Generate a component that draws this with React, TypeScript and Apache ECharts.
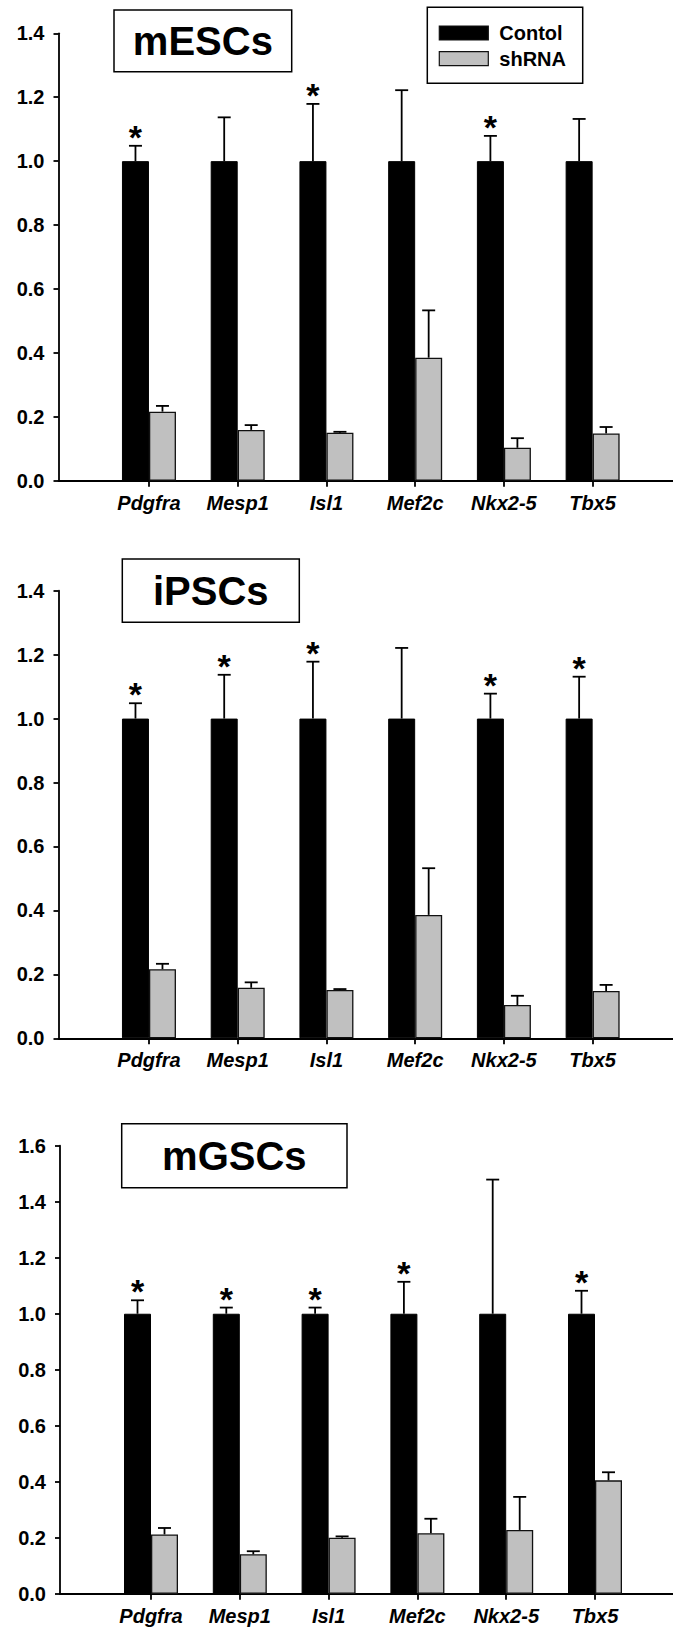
import React, { useEffect, useRef } from "react";
import * as echarts from "echarts";

const FONT = "'Liberation Sans', Arial, Helvetica, sans-serif";

const categories = ["Pdgfra", "Mesp1", "Isl1", "Mef2c", "Nkx2-5", "Tbx5"];
const seriesNames = ["Contol", "shRNA"];
const seriesColors = ["#000000", "#c0c0c0"];
const panelTitles = ["mESCs", "iPSCs", "mGSCs"];
const yMaxes = [1.4, 1.4, 1.6];
const yInterval = 0.2;

// mESCs
const mescControl = [1, 1, 1, 1, 1, 1];
const mescControlErr = [0.048, 0.137, 0.179, 0.222, 0.079, 0.132];
const mescShRNA = [0.216, 0.159, 0.15, 0.385, 0.103, 0.148];
const mescShRNAErr = [0.018, 0.015, 0.003, 0.148, 0.03, 0.02];
const mescSig = [true, false, true, false, true, false];

// iPSCs
const ipscControl = [1, 1, 1, 1, 1, 1];
const ipscControlErr = [0.048, 0.137, 0.178, 0.221, 0.078, 0.131];
const ipscShRNA = [0.216, 0.158, 0.151, 0.386, 0.104, 0.148];
const ipscShRNAErr = [0.017, 0.017, 0.003, 0.146, 0.029, 0.019];
const ipscSig = [true, true, true, false, true, true];

// mGSCs
const mgscControl = [1, 1, 1, 1, 1, 1];
const mgscControlErr = [0.048, 0.022, 0.022, 0.114, 0.479, 0.082];
const mgscShRNA = [0.212, 0.141, 0.2, 0.216, 0.228, 0.405];
const mgscShRNAErr = [0.023, 0.011, 0.005, 0.052, 0.118, 0.029];
const mgscSig = [true, true, true, true, false, true];

const BAR_W = 27;
const CAP_W = 13;
const LINE_W = 1.8;

// layout (pixels)
const layouts = [
  { top: 33.3, zero: 480.7, axisLeft: 58.5, barLeft: 104.6, barWidth: 532.4, box: [114, 10, 177.7, 61.7] },
  { top: 590.7, zero: 1038.3, axisLeft: 58.5, barLeft: 104.6, barWidth: 532.4, box: [122.3, 559, 177, 63.3] },
  { top: 1145.7, zero: 1593.8, axisLeft: 60, barLeft: 106.6, barWidth: 532.8, box: [121.7, 1123.7, 225.3, 64] },
];
const legendBox = [427.3, 7.3, 155.4, 76];
const legendSwatch = { x: 439.3, w: 49, h: 14, ys: [26, 51.7], textX: 499.3 };

const W = 673;
const H = 1628;

function errSeries(xi: number, yi: number, vals: number[], errs: number[], sig: boolean[] | null, side: number) {
  return {
    type: "custom",
    xAxisIndex: xi,
    yAxisIndex: yi,
    z: 5,
    silent: true,
    data: vals.map((v, i) => [i, v, errs[i], sig && sig[i] ? 1 : 0]),
    renderItem: (params: any, api: any) => {
      const i = api.value(0);
      const v = api.value(1);
      const e = api.value(2);
      const s = api.value(3);
      const b = api.coord([i, v]);
      const t = api.coord([i, v + e]);
      const x = b[0] + (side * BAR_W) / 2;
      const children: any[] = [
        { type: "line", shape: { x1: x, y1: b[1], x2: x, y2: t[1] }, style: { stroke: "#000", lineWidth: LINE_W } },
        { type: "line", shape: { x1: x - CAP_W / 2, y1: t[1], x2: x + CAP_W / 2, y2: t[1] }, style: { stroke: "#000", lineWidth: LINE_W } },
      ];
      if (s) {
        children.push({
          type: "text",
          x: x,
          y: t[1] - 9,
          style: { text: "*", font: `bold 34px ${FONT}`, fill: "#000", align: "center", verticalAlign: "middle" },
        });
      }
      return { type: "group", children };
    },
  };
}

export default function App() {
  const ref = useRef<HTMLDivElement>(null);
  useEffect(() => {
    document.body.style.margin = "0";
    if (!ref.current) return;
    const chart = echarts.init(ref.current, null, { renderer: "svg" });

    const panelData = [
      [mescControl, mescControlErr, mescShRNA, mescShRNAErr, mescSig],
      [ipscControl, ipscControlErr, ipscShRNA, ipscShRNAErr, ipscSig],
      [mgscControl, mgscControlErr, mgscShRNA, mgscShRNAErr, mgscSig],
    ] as any[];

    const grid: any[] = [];
    const xAxis: any[] = [];
    const yAxis: any[] = [];
    const series: any[] = [];
    const graphic: any[] = [];

    layouts.forEach((L, p) => {
      const bottom = H - L.zero;
      const gA = 2 * p; // frame grid (full width)
      const gB = 2 * p + 1; // bar grid
      grid.push({ left: L.axisLeft, right: 0, top: L.top, bottom });
      grid.push({ left: L.barLeft, width: L.barWidth, top: L.top, bottom });
      xAxis.push({
        type: "value",
        gridIndex: gA,
        min: 0,
        max: 1,
        axisLine: { show: true, onZero: false, lineStyle: { color: "#000", width: LINE_W } },
        axisTick: { show: false },
        axisLabel: { show: false },
        splitLine: { show: false },
      });
      xAxis.push({
        type: "category",
        gridIndex: gB,
        data: categories,
        axisLine: { show: true, onZero: false, lineStyle: { color: "#000", width: LINE_W } },
        axisTick: { show: true, alignWithLabel: true, length: 6, lineStyle: { color: "#000", width: LINE_W } },
        axisLabel: {
          interval: 0,
          margin: 12,
          color: "#000",
          fontFamily: FONT,
          fontWeight: "bold",
          fontStyle: "italic",
          fontSize: 20,
        },
        splitLine: { show: false },
      });
      yAxis.push({
        type: "value",
        gridIndex: gA,
        min: 0,
        max: yMaxes[p],
        interval: yInterval,
        axisLine: { show: true, onZero: false, lineStyle: { color: "#000", width: LINE_W } },
        axisTick: { show: true, length: 5, lineStyle: { color: "#000", width: LINE_W } },
        axisLabel: {
          margin: 14,
          color: "#000",
          fontFamily: FONT,
          fontWeight: "bold",
          fontSize: 20,
          formatter: (v: number) => v.toFixed(1),
        },
        splitLine: { show: false },
      });
      yAxis.push({
        type: "value",
        gridIndex: gB,
        min: 0,
        max: yMaxes[p],
        interval: yInterval,
        show: false,
      });

      const [ctl, ctlErr, sh, shErr, sig] = panelData[p];
      series.push({
        type: "bar",
        name: seriesNames[0],
        xAxisIndex: gB,
        yAxisIndex: gB,
        data: ctl,
        barWidth: BAR_W,
        barGap: "0%",
        itemStyle: { color: seriesColors[0], borderColor: "#000", borderWidth: 1 },
        silent: true,
      });
      series.push({
        type: "bar",
        name: seriesNames[1],
        xAxisIndex: gB,
        yAxisIndex: gB,
        data: sh,
        barWidth: BAR_W,
        barGap: "0%",
        itemStyle: { color: seriesColors[1], borderColor: "#111", borderWidth: 1.3 },
        silent: true,
      });
      series.push(errSeries(gB, gB, ctl, ctlErr, sig, -1));
      series.push(errSeries(gB, gB, sh, shErr, null, 1));

      const [bx, by, bw, bh] = L.box;
      graphic.push({
        type: "group",
        z: 10,
        children: [
          {
            type: "rect",
            shape: { x: bx, y: by, width: bw, height: bh },
            style: { fill: "#fff", stroke: "#000", lineWidth: 1.5 },
          },
          {
            type: "text",
            x: bx + bw / 2,
            y: by + bh / 2,
            style: {
              text: panelTitles[p],
              font: `bold 40px ${FONT}`,
              fill: "#000",
              align: "center",
              verticalAlign: "middle",
            },
          },
        ],
      });
    });

    // legend box
    const [lx, ly, lw, lh] = legendBox;
    const legendChildren: any[] = [
      { type: "rect", shape: { x: lx, y: ly, width: lw, height: lh }, style: { fill: "#fff", stroke: "#000", lineWidth: 1.5 } },
    ];
    seriesNames.forEach((name, i) => {
      const sy = legendSwatch.ys[i];
      legendChildren.push({
        type: "rect",
        shape: { x: legendSwatch.x, y: sy, width: legendSwatch.w, height: legendSwatch.h },
        style: { fill: seriesColors[i], stroke: "#111", lineWidth: 1.2 },
      });
      legendChildren.push({
        type: "text",
        x: legendSwatch.textX,
        y: sy + legendSwatch.h / 2,
        style: { text: name, font: `bold 20px ${FONT}`, fill: "#000", align: "left", verticalAlign: "middle" },
      });
    });
    graphic.push({ type: "group", z: 10, children: legendChildren });

    chart.setOption({
      animation: false,
      backgroundColor: "#fff",
      grid,
      xAxis,
      yAxis,
      series,
      graphic,
    });
    return () => chart.dispose();
  }, []);
  return <div ref={ref} style={{ width: W, height: H }} />;
}
